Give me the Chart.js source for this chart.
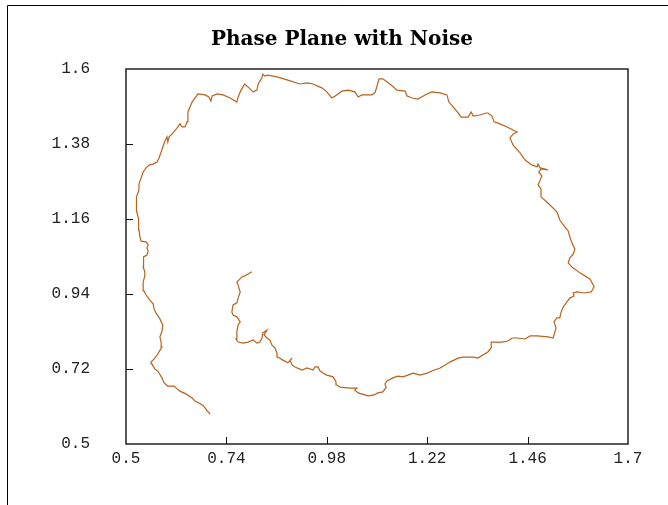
<!DOCTYPE html>
<html>
<head>
<meta charset="utf-8">
<title>Phase Plane with Noise</title>
<script src="https://cdn.jsdelivr.net/npm/chart.js@4"></script>
<style>
  html, body { margin: 0; padding: 0; background: #fff; }
  #wrap { width: 668px; height: 505px; }
</style>
</head>
<body>
<div id="wrap"><canvas id="phase" width="668" height="505"></canvas></div>
<script>
/* noisy trajectory in the (x, y) phase plane, outer end first */
const phaseX = [
  0.701, 0.694, 0.684, 0.665, 0.658, 0.643, 0.629, 0.620, 0.615, 0.600,
  0.591, 0.586, 0.576, 0.569, 0.562, 0.560, 0.567, 0.576, 0.586, 0.584,
  0.581, 0.586, 0.588, 0.581, 0.572, 0.567, 0.565, 0.557, 0.548, 0.543,
  0.541, 0.541, 0.545, 0.545, 0.541, 0.541, 0.543, 0.550, 0.553, 0.550,
  0.553, 0.548, 0.536, 0.533, 0.531, 0.531, 0.529, 0.526, 0.524, 0.526,
  0.531, 0.531, 0.536, 0.541, 0.548, 0.555, 0.565, 0.574, 0.579, 0.584,
  0.588, 0.593, 0.598, 0.600, 0.603, 0.612, 0.624, 0.629, 0.634, 0.641,
  0.646, 0.648, 0.658, 0.672, 0.689, 0.698, 0.703, 0.706, 0.718, 0.732,
  0.749, 0.765, 0.768, 0.775, 0.784, 0.792, 0.804, 0.813, 0.816, 0.825,
  0.827, 0.832, 0.839, 0.861, 0.885, 0.916, 0.933, 0.947, 0.969, 0.980,
  0.992, 1.000, 1.016, 1.031, 1.047, 1.055, 1.064, 1.088, 1.095, 1.098,
  1.102, 1.105, 1.114, 1.131, 1.148, 1.167, 1.172, 1.184, 1.198, 1.215,
  1.231, 1.251, 1.267, 1.272, 1.282, 1.294, 1.301, 1.318, 1.325, 1.330,
  1.346, 1.361, 1.365, 1.375, 1.380, 1.394, 1.411, 1.425, 1.435, 1.425,
  1.418, 1.425, 1.442, 1.454, 1.471, 1.483, 1.485, 1.490, 1.509, 1.492,
  1.487, 1.494, 1.490, 1.485, 1.492, 1.492, 1.506, 1.530, 1.537, 1.549,
  1.557, 1.561, 1.566, 1.573, 1.569, 1.561, 1.557, 1.566, 1.585, 1.609,
  1.619, 1.612, 1.595, 1.578, 1.569, 1.571, 1.561, 1.554, 1.545, 1.540,
  1.537, 1.530, 1.523, 1.528, 1.521, 1.509, 1.483, 1.466, 1.454, 1.435,
  1.423, 1.413, 1.399, 1.377, 1.373, 1.373, 1.365, 1.353, 1.341, 1.330,
  1.306, 1.294, 1.275, 1.263, 1.251, 1.231, 1.220, 1.203, 1.196, 1.186,
  1.174, 1.162, 1.150, 1.138, 1.124, 1.119, 1.122, 1.114, 1.102, 1.093,
  1.079, 1.055, 1.047, 1.052, 1.035, 1.012, 1.004, 1.002, 0.995, 0.980,
  0.971, 0.964, 0.959, 0.952, 0.947, 0.933, 0.921, 0.904, 0.897, 0.892,
  0.897, 0.887, 0.875, 0.863, 0.861, 0.856, 0.849, 0.844, 0.837, 0.830,
  0.837, 0.827, 0.825, 0.820, 0.813, 0.804, 0.792, 0.780, 0.768, 0.763,
  0.765, 0.768, 0.773, 0.765, 0.756, 0.753, 0.756, 0.765, 0.768, 0.773,
  0.768, 0.765, 0.777, 0.784, 0.801
];
const phaseY = [
  0.588, 0.597, 0.614, 0.626, 0.635, 0.647, 0.655, 0.664, 0.670, 0.670,
  0.679, 0.694, 0.714, 0.720, 0.735, 0.741, 0.749, 0.764, 0.785, 0.799,
  0.814, 0.831, 0.849, 0.867, 0.884, 0.896, 0.911, 0.922, 0.937, 0.949,
  0.961, 0.975, 0.993, 1.005, 1.019, 1.037, 1.049, 1.054, 1.066, 1.075,
  1.084, 1.093, 1.095, 1.110, 1.128, 1.145, 1.160, 1.181, 1.201, 1.225,
  1.245, 1.263, 1.280, 1.298, 1.310, 1.318, 1.321, 1.327, 1.339, 1.357,
  1.371, 1.389, 1.401, 1.386, 1.401, 1.412, 1.430, 1.439, 1.430, 1.430,
  1.445, 1.474, 1.503, 1.527, 1.524, 1.518, 1.506, 1.521, 1.527, 1.524,
  1.515, 1.503, 1.518, 1.538, 1.556, 1.547, 1.533, 1.538, 1.556, 1.574,
  1.585, 1.579, 1.582, 1.577, 1.568, 1.556, 1.559, 1.556, 1.544, 1.533,
  1.515, 1.521, 1.535, 1.538, 1.533, 1.518, 1.524, 1.524, 1.530, 1.541,
  1.559, 1.571, 1.571, 1.556, 1.538, 1.535, 1.521, 1.515, 1.512, 1.524,
  1.533, 1.530, 1.524, 1.503, 1.489, 1.471, 1.459, 1.459, 1.474, 1.462,
  1.465, 1.471, 1.471, 1.462, 1.445, 1.439, 1.430, 1.421, 1.415, 1.409,
  1.398, 1.377, 1.354, 1.333, 1.318, 1.313, 1.321, 1.310, 1.304, 1.307,
  1.298, 1.286, 1.274, 1.260, 1.248, 1.225, 1.210, 1.181, 1.157, 1.137,
  1.125, 1.107, 1.090, 1.072, 1.057, 1.046, 1.031, 1.019, 1.002, 0.984,
  0.961, 0.946, 0.943, 0.946, 0.943, 0.934, 0.928, 0.917, 0.902, 0.887,
  0.870, 0.870, 0.858, 0.840, 0.811, 0.814, 0.817, 0.817, 0.808, 0.811,
  0.811, 0.802, 0.799, 0.799, 0.799, 0.782, 0.770, 0.761, 0.752, 0.755,
  0.755, 0.752, 0.741, 0.732, 0.723, 0.714, 0.708, 0.702, 0.705, 0.708,
  0.702, 0.697, 0.699, 0.694, 0.685, 0.676, 0.667, 0.653, 0.650, 0.644,
  0.641, 0.650, 0.658, 0.664, 0.664, 0.667, 0.673, 0.682, 0.697, 0.702,
  0.708, 0.714, 0.726, 0.726, 0.717, 0.723, 0.717, 0.726, 0.732, 0.746,
  0.752, 0.738, 0.746, 0.755, 0.767, 0.782, 0.790, 0.805, 0.811, 0.820,
  0.834, 0.826, 0.811, 0.799, 0.796, 0.805, 0.799, 0.796, 0.799, 0.808,
  0.829, 0.849, 0.858, 0.873, 0.878, 0.887, 0.908, 0.914, 0.928, 0.946,
  0.966, 0.975, 0.990, 0.993, 1.005
];
const xTicks = [0.5, 0.74, 0.98, 1.22, 1.46, 1.7];
const yTicks = [0.5, 0.72, 0.94, 1.16, 1.38, 1.6];
const chartTitle = "Phase Plane with Noise";

const points = phaseX.map((x, i) => ({ x, y: phaseY[i] }));

// outer frame (top + left only), title, plot box and inward tick marks
const framePlugin = {
  id: "frame",
  beforeDraw(chart) {
    const ctx = chart.ctx;
    ctx.save();
    ctx.fillStyle = "#fff";
    ctx.fillRect(0, 0, chart.width, chart.height);
    ctx.strokeStyle = "#000";
    ctx.lineWidth = 1;
    ctx.beginPath();
    ctx.moveTo(7.5, chart.height);
    ctx.lineTo(7.5, 5.5);
    ctx.lineTo(chart.width, 5.5);
    ctx.stroke();

    ctx.fillStyle = "#000";
    ctx.font = "bold 20px 'DejaVu Serif', 'Liberation Serif', serif";
    ctx.textAlign = "center";
    ctx.textBaseline = "alphabetic";
    ctx.fillText(chartTitle, 342, 45);
    ctx.restore();
  },
  afterDatasetsDraw(chart) {
    const { ctx, chartArea: a, scales } = chart;
    ctx.save();
    ctx.strokeStyle = "#222";
    ctx.lineWidth = 1.5;
    ctx.strokeRect(a.left, a.top, a.right - a.left, a.bottom - a.top);
    ctx.lineWidth = 1;
    ctx.strokeStyle = "#111";
    ctx.beginPath();
    xTicks.slice(1, -1).forEach(v => {
      const px = Math.round(scales.x.getPixelForValue(v)) + 0.5;
      ctx.moveTo(px, a.bottom);
      ctx.lineTo(px, a.bottom - 7);
    });
    yTicks.slice(1, -1).forEach(v => {
      const py = Math.round(scales.y.getPixelForValue(v)) + 0.5;
      ctx.moveTo(a.left, py);
      ctx.lineTo(a.left + 7, py);
    });
    ctx.stroke();
    ctx.restore();
  }
};

const tickFont = { family: "'Liberation Mono', 'DejaVu Sans Mono', monospace", size: 16 };

new Chart(document.getElementById("phase"), {
  type: "line",
  data: {
    datasets: [{
      data: points,
      borderColor: "#b8621b",
      borderWidth: 1.2,
      pointRadius: 0,
      tension: 0,
      fill: false
    }]
  },
  options: {
    responsive: false,
    animation: false,
    layout: { padding: { left: 0, right: 40, top: 69, bottom: 0 } },
    plugins: {
      legend: { display: false },
      tooltip: { enabled: false },
      title: { display: false }
    },
    scales: {
      x: {
        type: "linear",
        min: 0.5,
        max: 1.7,
        afterBuildTicks: s => { s.ticks = xTicks.map(v => ({ value: v })); },
        afterFit: s => { s.height = 61; },
        grid: { display: false, drawTicks: false },
        border: { display: false },
        ticks: { color: "#222", font: tickFont, padding: 5, maxRotation: 0, autoSkip: false, callback: v => String(v) }
      },
      y: {
        type: "linear",
        min: 0.5,
        max: 1.6,
        afterBuildTicks: s => { s.ticks = yTicks.map(v => ({ value: v })); },
        afterFit: s => { s.width = 126; },
        grid: { display: false, drawTicks: false },
        border: { display: false },
        ticks: { color: "#222", font: tickFont, padding: 36, autoSkip: false, callback: v => String(v) }
      }
    }
  },
  plugins: [framePlugin]
});
</script>
</body>
</html>
